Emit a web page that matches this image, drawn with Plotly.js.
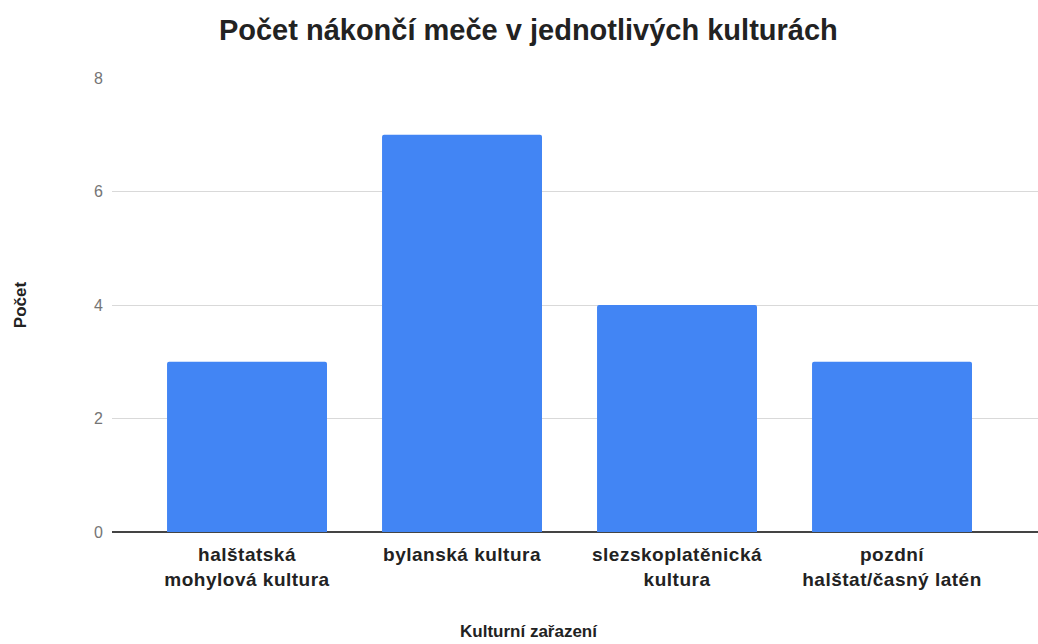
<!DOCTYPE html>
<html>
<head>
<meta charset="utf-8">
<script src="https://cdn.plot.ly/plotly-3.0.1.min.js"></script>
<style>
html, body { margin: 0; padding: 0; background: #fff; }
#chart { width: 1038px; height: 644px; }
.xtick text { letter-spacing: 0.5px; }
</style>
</head>
<body>
<div id="chart"></div>
<script>
const categories = [
  "halštatská<br>mohylová kultura",
  "bylanská kultura",
  "slezskoplatěnická<br>kultura",
  "pozdní<br>halštat/časný latén"
];
const counts = [3, 7, 4, 3];
const yTicks = [0, 2, 4, 6, 8];
const chartTitle = "Počet nákončí meče v jednotlivých kulturách";
const xTitle = "Kulturní zařazení";
const yTitle = "Počet";

const FONT = "Liberation Sans, Arial, sans-serif";

const trace = {
  type: "bar",
  x: categories,
  y: counts,
  marker: { color: "#4285F4", cornerradius: 2 },
  hoverinfo: "x+y"
};

const layout = {
  width: 1038,
  height: 644,
  margin: { l: 112, r: 0, t: 78, b: 112, pad: 0 },
  paper_bgcolor: "#ffffff",
  plot_bgcolor: "#ffffff",
  bargap: 0.256,
  showlegend: false,
  title: {
    text: chartTitle,
    font: { family: FONT, size: 29, color: "#222222", weight: "bold" },
    x: 0.509, xanchor: "center", xref: "container",
    y: 0.953, yanchor: "middle", yref: "container"
  },
  xaxis: {
    type: "category",
    range: [-0.628, 3.679],
    showgrid: false,
    zeroline: false,
    showline: false,
    ticks: "",
    ticklabelstandoff: 9,
    tickfont: { family: FONT, size: 19, color: "#222222", weight: "bold" },
    automargin: false,
    fixedrange: true
  },
  yaxis: {
    range: [0, 8],
    tickvals: yTicks,
    ticktext: yTicks.map(String),
    showgrid: true,
    gridcolor: "#d9d9d9",
    gridwidth: 1,
    zeroline: true,
    zerolinecolor: "#444444",
    zerolinewidth: 2,
    showline: false,
    ticks: "",
    ticklabelstandoff: 8,
    tickfont: { family: FONT, size: 16, color: "#757575" },
    title: {
      text: yTitle,
      font: { family: FONT, size: 17, color: "#222222", weight: "bold" },
      standoff: 63
    },
    automargin: false,
    fixedrange: true
  },
  annotations: [{
    text: xTitle,
    xref: "paper", yref: "paper",
    x: 0.4503, y: -0.22,
    xanchor: "center", yanchor: "middle",
    showarrow: false,
    font: { family: FONT, size: 17, color: "#222222", weight: "bold" }
  }]
};

Plotly.newPlot("chart", [trace], layout, { displayModeBar: false, staticPlot: true });
</script>
</body>
</html>
